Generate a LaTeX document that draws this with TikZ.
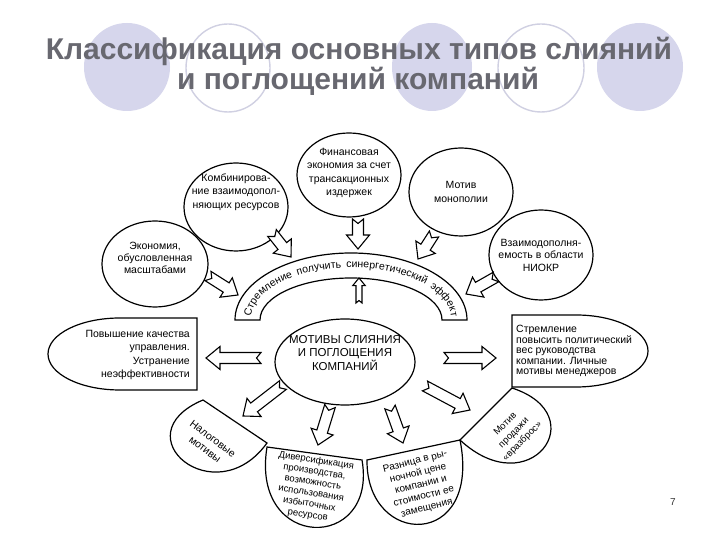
\documentclass[tikz,border=0pt]{standalone}
\usepackage{fontspec}
\setmainfont{Liberation Sans}
\usepackage{tikz}
\usetikzlibrary{positioning,calc,shapes.geometric,decorations.text}
\definecolor{slidelilac}{RGB}{214,214,236}
\definecolor{slidering}{RGB}{208,208,226}
\definecolor{slidegray}{RGB}{104,104,112}
\newcommand{\archfont}{\fontsize{10.5}{11}\selectfont}
\newcommand{\hollowarrow}[3][1]{%
  \pgfmathsetmacro{\aw}{5.5*#1}\pgfmathsetmacro{\ah}{11.5*#1}%
  \pgfmathsetmacro{\al}{14*#1}\pgfmathsetmacro{\an}{4.5*#1}%
  \coordinate (ab) at ($(#3)!\al pt!(#2)$);
  \draw[hollow] ($(#2)!\aw pt!90:(#3)$) -- ($(ab)!\aw pt!-90:(#2)$) -- ($(ab)!\ah pt!-90:(#2)$) -- (#3)
    -- ($(ab)!\ah pt!90:(#2)$) -- ($(ab)!\aw pt!90:(#2)$) -- ($(#2)!\aw pt!-90:(#3)$) -- ($(#2)!\an pt!(#3)$) -- cycle;
}

\begin{document}
\begin{tikzpicture}[x=1pt, y=1pt,
  disc/.style={fill=slidelilac},
  ring/.style={draw=slidering, line width=1.4pt},
  title/.style={font=\fontsize{30}{30}\selectfont\bfseries, text=slidegray, anchor=base, inner sep=0pt},
  motive/.style={ellipse, draw, line width=1.2pt, minimum width=104pt, minimum height=88pt, inner sep=0pt},
  txt/.style={font=\fontsize{10.5}{13.5}\selectfont, align=center, inner sep=0pt},
  petal/.style={draw, line width=1.2pt, fill=white},
  hollow/.style={draw, fill=white, line width=1.1pt, line join=miter}
]
  \fill[white] (0,0) rectangle (720,540);
  \useasboundingbox (0,0) rectangle (720,540);

  \fill[disc] (127,473) ellipse [x radius=43, y radius=44];
  \draw[ring] (228,472) ellipse [x radius=42, y radius=44];
  \fill[disc] (432,473) ellipse [x radius=40, y radius=44];
  \draw[ring] (541,472) ellipse [x radius=43, y radius=44];
  \fill[disc] (640,473) ellipse [x radius=43, y radius=44];
  \node[title] (title1) at (359,480) {Классификация основных типов слияний};
  \node[title] (title2) at (358,450) {и поглощений компаний};

  \node[motive, minimum height=84pt] (finance) at (349,365) {};
  \node[txt] (finance-t) at (349,367) {Финансовая\\экономия за счет\\трансакционных\\издержек};
  \node[motive] (combo) at (236,333) {};
  \node[txt] (combo-t) at (236,348) {Комбинирова-\\ние взаимодопол-\\няющих ресурсов};
  \node[motive, minimum width=106pt, minimum height=86pt] (scale) at (155,276) {};
  \node[txt, font=\fontsize{10.5}{11.8}\selectfont] (scale-t) at (155,282) {Экономия,\\обусловленная\\масштабами};
  \node[motive] (monopoly) at (461,348) {};
  \node[txt] (monopoly-t) at (461,348) {Мотив\\монополии};
  \node[motive, minimum height=90pt] (niokr) at (541,285) {};
  \node[txt, font=\fontsize{10.5}{12.5}\selectfont] (niokr-t) at (541,285) {Взаимодополня-\\емость в области\\НИОКР};

  \draw[petal] (235,220) arc[start angle=180, end angle=0, x radius=116, y radius=67]
    -- (442,220) arc[start angle=0, end angle=180, x radius=91, y radius=42] -- cycle;
  \path[decorate, decoration={text along path, text align={fit to path stretching spaces, left indent=2pt, right indent=2pt},
    text={|\archfont|Стремление получить синергетический эффект}}]
    (251,221) arc[start angle=180, end angle=0, x radius=100, y radius=51.5];

  \node[motive, minimum width=140pt, minimum height=86pt] (core) at (345,178) {};
  \node[txt, font=\fontsize{11.5}{13.5}\selectfont] (core-t) at (345,187) {МОТИВЫ СЛИЯНИЯ\\И ПОГЛОЩЕНИЯ\\КОМПАНИЙ};

  \draw[petal] (197,222) -- (120,222) arc[start angle=90, end angle=270, x radius=72, y radius=36] -- (197,150) -- cycle;
  \node[txt, align=right, anchor=east, font=\fontsize{10.5}{13.3}\selectfont] (quality) at (190,185) {Повышение качества\\управления.\\Устранение\\неэффективности};
  \draw[petal] (512,225) -- (576,225) arc[start angle=90, end angle=-90, x radius=72, y radius=36] -- (512,153) -- cycle;
  \node[txt, align=left, anchor=west, font=\fontsize{10.5}{10.5}\selectfont] (politics) at (516,189) {Стремление\\повысить политический\\вес руководства\\компании. Личные\\мотивы менеджеров};

  \draw[petal] (203,140) .. controls (120,105) and (215,25) .. (267,97) -- cycle;
  \node[txt, rotate=-37, font=\fontsize{10.5}{13}\selectfont] (tax) at (209,96) {Налоговые\\мотивы};
  \draw[petal] (267,93) .. controls (250,-12) and (378,-12) .. (362,80) -- cycle;
  \node[txt, rotate=-9, font=\fontsize{9.5}{11}\selectfont] (diversify) at (312,52) {Диверсификация\\производства,\\возможность\\использования\\избыточных\\ресурсов};
  \draw[petal] (367,80) .. controls (366,-8) and (482,-10) .. (460,100) -- cycle;
  \node[txt, rotate=14, font=\fontsize{10}{12}\selectfont] (gap) at (421,55) {Разница в ры-\\ночной цене\\компании и\\стоимости ее\\замещения};
  \draw[petal] (460,100) .. controls (530,35) and (595,125) .. (512,152) -- cycle;
  \node[txt, rotate=45, font=\fontsize{9.5}{12}\selectfont] (sale) at (514,107) {Мотив\\продажи\\«вразброс»};

  \coordinate (combo-a) at (272,307);  \coordinate (combo-b) at (291,283);
  \coordinate (scale-a) at (208,264);  \coordinate (scale-b) at (238,245);
  \coordinate (finance-a) at (358,321); \coordinate (finance-b) at (358,291);
  \coordinate (monopoly-a) at (434,306); \coordinate (monopoly-b) at (418,281);
  \coordinate (niokr-a) at (496,263);  \coordinate (niokr-b) at (466,246);
  \coordinate (core-a) at (359,237);   \coordinate (core-b) at (359,262);
  \coordinate (quality-a) at (261,182); \coordinate (quality-b) at (206,182);
  \coordinate (politics-a) at (444,182); \coordinate (politics-b) at (496,182);
  \coordinate (tax-a) at (283,155);    \coordinate (tax-b) at (243,124);
  \coordinate (diversify-a) at (330,134); \coordinate (diversify-b) at (318,95);
  \coordinate (gap-a) at (390,133);    \coordinate (gap-b) at (403,97);
  \coordinate (sale-a) at (425,154);   \coordinate (sale-b) at (470,130);

  \hollowarrow{combo-a}{combo-b}
  \hollowarrow{scale-a}{scale-b}
  \hollowarrow{finance-a}{finance-b}
  \hollowarrow{monopoly-a}{monopoly-b}
  \hollowarrow{niokr-a}{niokr-b}
  \hollowarrow[0.55]{core-a}{core-b}
  \hollowarrow{quality-a}{quality-b}
  \hollowarrow{politics-a}{politics-b}
  \hollowarrow{tax-a}{tax-b}
  \hollowarrow{diversify-a}{diversify-b}
  \hollowarrow{gap-a}{gap-b}
  \hollowarrow{sale-a}{sale-b}

  \node[font=\fontsize{10}{12}\selectfont, text=black!80] (pageno) at (673,38) {7};
\end{tikzpicture}
\end{document}
